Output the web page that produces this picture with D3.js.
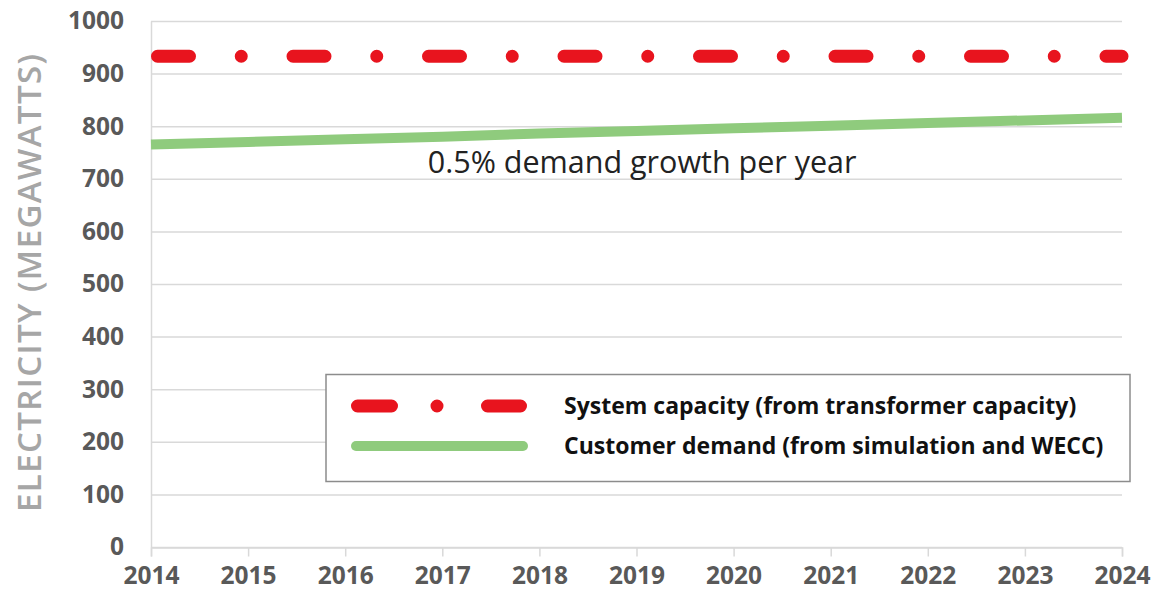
<!DOCTYPE html>
<html>
<head>
<meta charset="utf-8">
<script src="https://cdn.jsdelivr.net/npm/d3@7"></script>
<style>
  body { margin: 0; background: #fff; }
  svg { display: block; font-family: "Open Sans", sans-serif; }
</style>
</head>
<body>
<svg width="1161" height="600"></svg>
<script>
// values
var years = [2014, 2015, 2016, 2017, 2018, 2019, 2020, 2021, 2022, 2023, 2024];
var capacity = [933, 933, 933, 933, 933, 933, 933, 933, 933, 933, 933];
var demand = [765, 770, 775, 780, 786, 791, 796, 801, 806, 811, 816];
var yTicks = [0, 100, 200, 300, 400, 500, 600, 700, 800, 900, 1000];
var legendLabels = ["System capacity (from transformer capacity)", "Customer demand (from simulation and WECC)"];
var note = "0.5% demand growth per year";

var svg = d3.select("svg");

xScale = d3.scaleLinear().domain([2014, 2024]).range([151, 1122]);
yScale = d3.scaleLinear().domain([0, 1000]).range([547, 21]);

// gridlines
svg.append("g").selectAll("line.grid").data(yTicks).enter().append("line")
    .attr("class", "grid")
    .attr("x1", 151).attr("x2", 1122)
    .attr("y1", function (d) { return yScale(d) + 0.5 })
    .attr("y2", function (d) { return yScale(d) + 0.5 })
    .style("stroke", "#d9d9d9").style("stroke-width", 1.5);

// y axis
yAxis = d3.axisLeft(yScale).tickValues(yTicks).tickFormat(d3.format("d")).tickSize(0).tickPadding(27);
var yG = svg.append("g").attr("transform", "translate(151,0)").call(yAxis);
yG.select(".domain").style("stroke", "#d9d9d9").style("stroke-width", 1.5);
yG.selectAll("text").style("font-family", "'Open Sans', sans-serif").style("font-size", "24.5px")
    .style("font-weight", "bold").style("fill", "#595959");

// x axis
xAxis = d3.axisBottom(xScale).tickValues(years).tickFormat(d3.format("d")).tickSize(9).tickPadding(10);
var xG = svg.append("g").attr("transform", "translate(0,547.5)").call(xAxis);
xG.select(".domain").style("stroke", "#d9d9d9").style("stroke-width", 1.5);
xG.selectAll("line").style("stroke", "#d9d9d9").style("stroke-width", 1.5);
xG.selectAll("text").style("font-family", "'Open Sans', sans-serif").style("font-size", "24.5px")
    .style("font-weight", "bold").style("fill", "#595959");

// axis title
svg.append("text")
    .attr("transform", "translate(41,283) rotate(-90)")
    .attr("text-anchor", "middle")
    .attr("textLength", 458)
    .style("font-size", "33px")
    .style("font-weight", 600)
    .style("fill", "#a6a6a6")
    .text("ELECTRICITY (MEGAWATTS)");

var line = d3.line()
    .x(function (d, i) { return xScale(years[i]) })
    .y(function (d) { return yScale(d) });

svg.append("path").datum(demand).attr("d", line)
    .style("fill", "none").style("stroke", "#8fcb7d").style("stroke-width", 10);

svg.append("path").datum(capacity).attr("d", line)
    .style("fill", "none").style("stroke", "#e8141e").style("stroke-width", 13)
    .style("stroke-linecap", "round")
    .style("stroke-dasharray", "32,51.75,0,51.75")
    .style("stroke-dashoffset", -6.5);

// annotation
svg.append("text").attr("x", xScale(2016.85)).attr("y", 173)
    .style("font-size", "30.5px").style("fill", "#222").text(note);

// legend
var lg = svg.append("g");
lg.append("rect").attr("x", 326).attr("y", 374.5).attr("width", 804).attr("height", 107)
    .style("fill", "#fff").style("stroke", "#8c8c8c").style("stroke-width", 1.5);
lg.append("line").attr("x1", 357.5).attr("x2", 520.5).attr("y1", 406).attr("y2", 406)
    .style("stroke", "#e8141e").style("stroke-width", 13).style("stroke-linecap", "round")
    .style("stroke-dasharray", "34,45.5,0,50.5,40");
lg.append("line").attr("x1", 356).attr("x2", 523).attr("y1", 446).attr("y2", 446)
    .style("stroke", "#8fcb7d").style("stroke-width", 10).style("stroke-linecap", "round");
lg.selectAll("text.leg").data(legendLabels).enter().append("text")
    .attr("class", "leg")
    .attr("x", 564)
    .attr("y", function (d, i) { return 414 + i * 40 })
    .style("font-size", "23px").style("font-weight", "bold").style("fill", "#111")
    .text(function (d) { return d });
</script>
</body>
</html>
